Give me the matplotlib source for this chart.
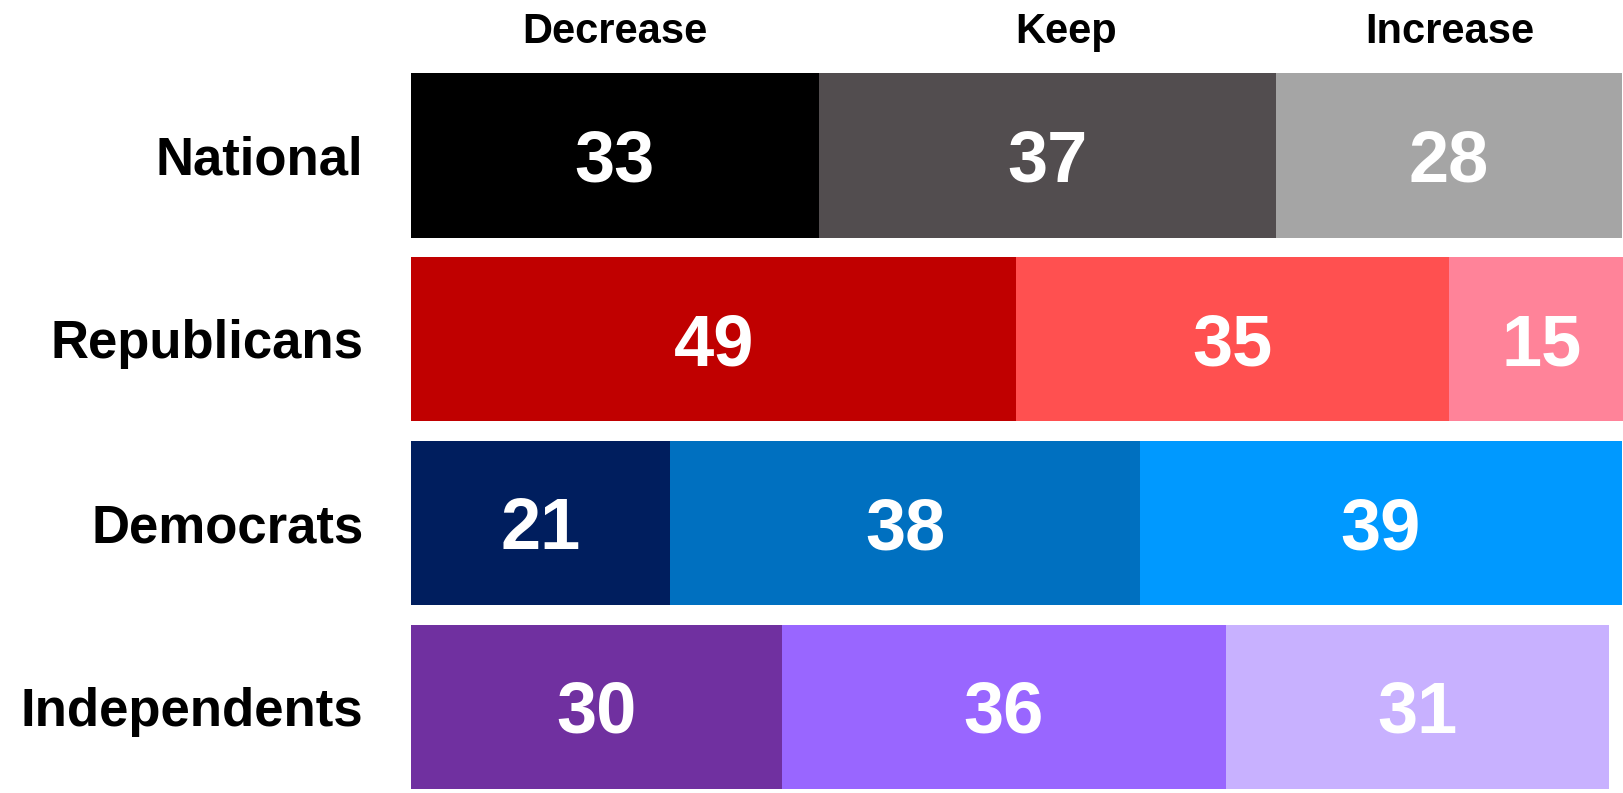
import numpy as np
import matplotlib.pyplot as plt
from matplotlib import transforms

# Survey shares (%) by group: decrease / keep / increase
groups = ['National', 'Republicans', 'Democrats', 'Independents']
columns = ['Decrease', 'Keep', 'Increase']
decrease = [33, 49, 21, 30]
keep = [37, 35, 38, 36]
increase = [28, 15, 39, 31]

palette = [
    ['#000000', '#524D4F', '#A5A5A5'],
    ['#C00000', '#FF5050', '#FF8399'],
    ['#001E5E', '#0070C0', '#0099FF'],
    ['#7030A0', '#9966FF', '#C8B1FF'],
]

W, H = 1624, 793
fig = plt.figure(figsize=(W / 100, H / 100), dpi=100)
fig.patch.set_facecolor('white')

top_px, bot_px, left_px = 73.3, 789.0, 411.0
ax = fig.add_axes([left_px / W, (H - bot_px) / H, 1 - left_px / W, (bot_px - top_px) / H])

bar_h = 0.894
y = np.arange(len(groups))
values = np.array([decrease, keep, increase]).T
px_per_unit = (bot_px - top_px) / (3 + bar_h)

for i in range(len(groups)):
    left = 0
    for j in range(3):
        v = values[i, j]
        ax.barh(y[i], v, left=left, height=bar_h, color=palette[i][j], edgecolor='none')
        # baseline shifted down by half the digit height so digits sit centred
        ax.text(left + v / 2, y[i] + 26 / px_per_unit, str(v), ha='center', va='baseline',
                color='white', fontsize=52, fontweight='bold',
                family=['Liberation Sans', 'DejaVu Sans'])
        left += v

ax.set_xlim(0, 98.2)
ax.set_ylim(3 + bar_h / 2, -bar_h / 2)
ax.axis('off')

# Row labels, right-aligned to the left of the bars
for i, g in enumerate(groups):
    ax.text(-3.85, y[i] + 19 / px_per_unit, g, ha='right', va='baseline', fontsize=38,
            fontweight='bold', family=['Liberation Sans', 'DejaVu Sans'])

# Column headers above the bars
trans = transforms.blended_transform_factory(ax.transData, fig.transFigure)
for x, c in zip([16.5, 53.0, 84.1], columns):
    ax.text(x, 1 - 43 / H, c, ha='center', va='baseline', fontsize=30, fontweight='bold',
            family=['Liberation Sans Narrow', 'Liberation Sans', 'DejaVu Sans'],
            transform=trans, clip_on=False)

fig.savefig('out.png', dpi=100)
